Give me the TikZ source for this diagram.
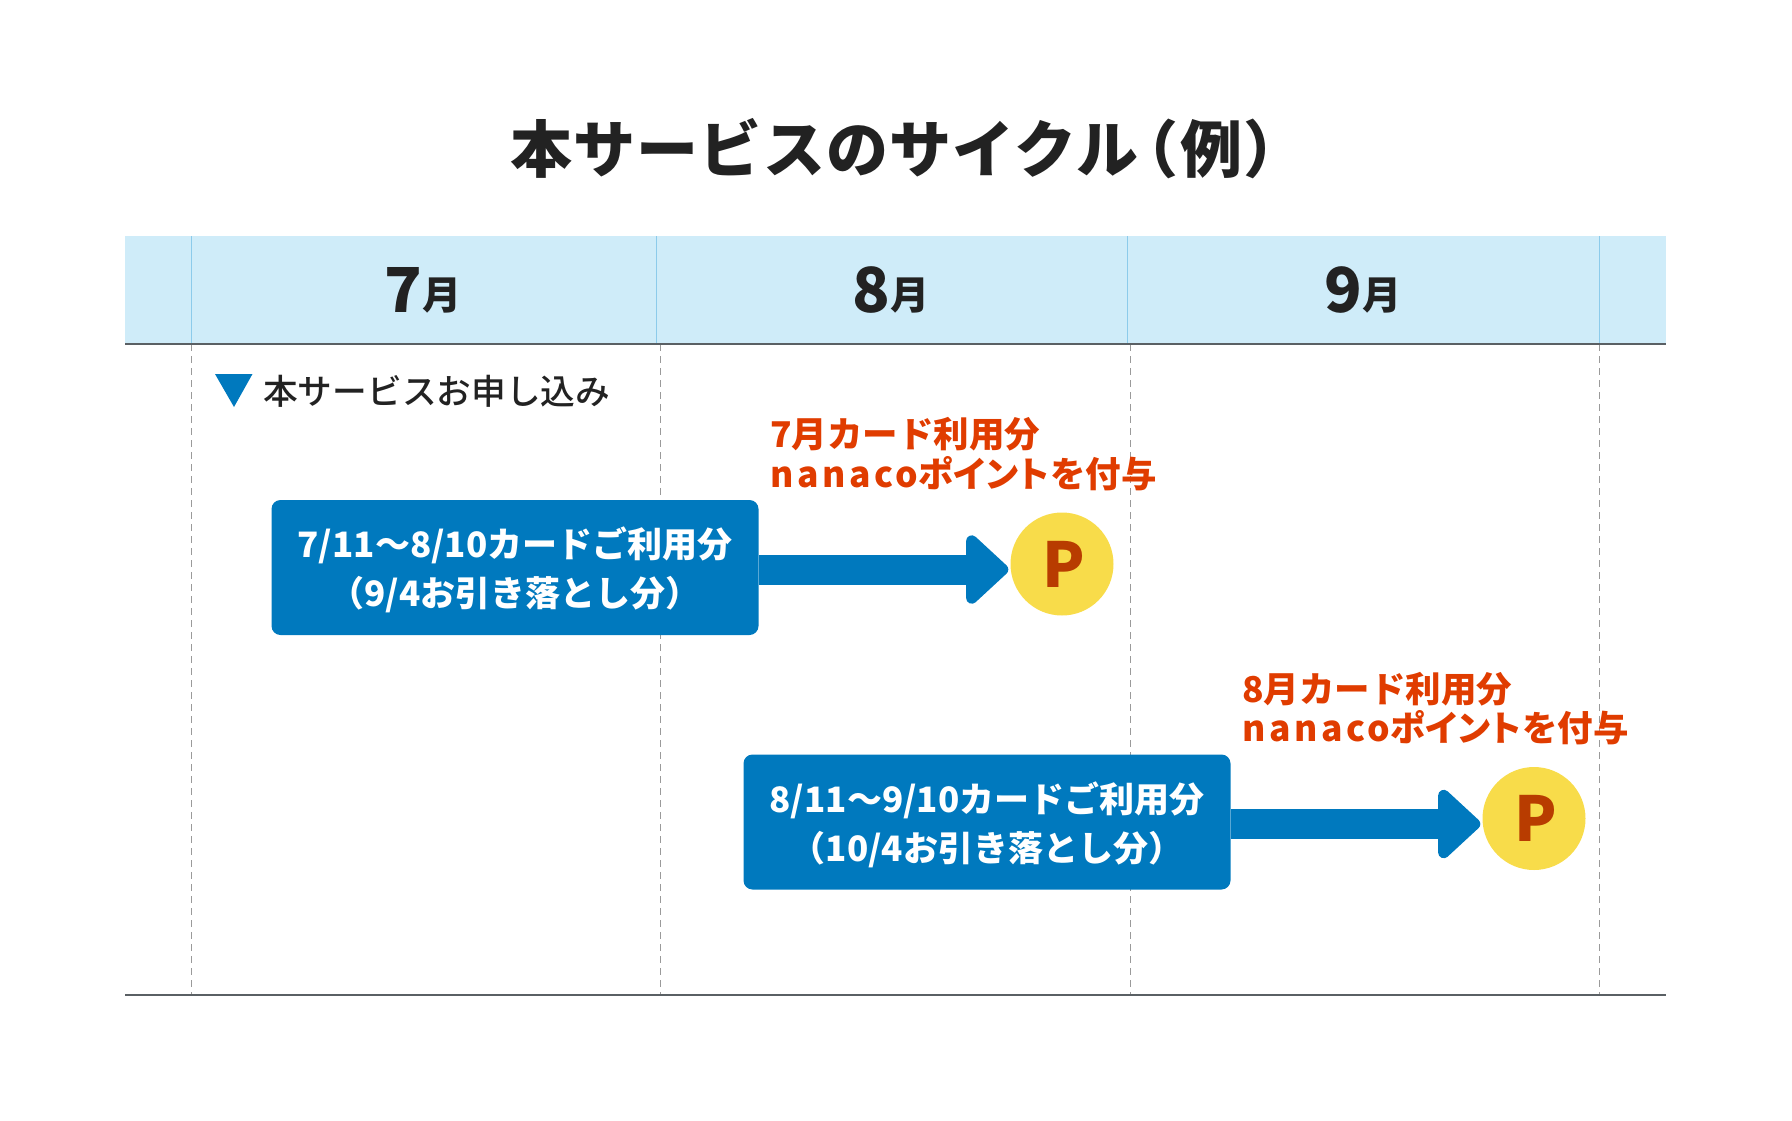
\documentclass[tikz,border=0pt]{standalone}
\usepackage{fontspec}
\setmainfont{Noto Sans CJK JP}
\newfontfamily\jpmedium{Noto Sans CJK JP Medium}
\newfontfamily\jpbold[RawFeature=+palt,LetterSpace=2.5]{Noto Sans CJK JP Bold}
\newfontfamily\latinbold[LetterSpace=10]{Noto Sans CJK JP Bold}
\usepackage{tikz}
\usetikzlibrary{arrows.meta,positioning}
\definecolor{bandblue}{HTML}{CFECF9}
\definecolor{sepblue}{HTML}{8CCBEB}
\definecolor{boxblue}{HTML}{0079BE}
\definecolor{notered}{HTML}{E03C00}
\definecolor{coinyellow}{HTML}{F8DC4A}
\definecolor{coinletter}{HTML}{B83C00}
\definecolor{inkdark}{HTML}{222222}
\definecolor{rulegray}{HTML}{5A6064}
\definecolor{dashgray}{HTML}{9A9A9A}
\tikzset{
  usage/.style={fill=boxblue,text=white,rounded corners=9pt,minimum width=487pt,minimum height=135pt,
    inner sep=0pt,align=center,font=\fontsize{35}{49}\selectfont\bfseries},
  coin/.style={circle,fill=coinyellow,text=coinletter,minimum size=103pt,inner sep=0pt,
    font=\fontsize{62}{62}\selectfont\bfseries},
  note/.style={anchor=west,inner sep=0pt,align=left,text=notered,font=\fontsize{35.5}{39.5}\selectfont\bfseries},
  flow/.style={draw=boxblue,line width=30pt,-{Triangle[length=45pt,width=80pt,round]},shorten >=2pt},
  month/.style={inner sep=0pt,text=inkdark,font=\bfseries}
}
\newcommand{\monthlabel}[1]{{\fontsize{62}{62}\selectfont #1}\raisebox{3pt}{\fontsize{39}{39}\selectfont 月}}
\begin{document}
\begin{tikzpicture}[x=1pt,y=-1pt]
  \useasboundingbox (0,0) rectangle (1792,1120);
  \fill[bandblue] (125,236) rectangle (1666,344);
  \foreach \x in {191.5,656,1127.5,1599}
    \draw[sepblue,line width=1pt] (\x,236) -- (\x,344);
  \foreach \x in {191.5,660.5,1130.5,1599.5}
    \draw[dashgray,line width=1.5pt,dash pattern=on 7pt off 5pt] (\x,344) -- (\x,995);
  \draw[rulegray,line width=2.5pt] (125,344) -- (1666,344);
  \draw[rulegray,line width=1.5pt] (125,995) -- (1666,995);

  \node[anchor=west,inner sep=0pt,text=inkdark,font=\fontsize{62}{62}\selectfont\bfseries] (title) at (510,149)
    {\addfontfeature{LetterSpace=2}本サービスのサイクル\hspace{7pt}{\jpmedium\addfontfeature{RawFeature=+palt}（\hspace{4pt}例\hspace{4pt}）}};
  \node[month] (jul) at (423,290) {\monthlabel{7}};
  \node[month] (aug) at (891,290) {\monthlabel{8}};
  \node[month] (sep) at (1363,290) {\monthlabel{9}};

  \fill[boxblue] (215,374) -- (252.5,374) -- (234,407) -- cycle;
  \node[anchor=west,inner sep=0pt,text=inkdark,font=\fontsize{34.7}{40}\selectfont\jpmedium] (apply) at (263,391) {本サービスお申し込み};

  \node[usage] (usejul) at (515,567.5) {\rule{0pt}{36pt}7/11〜8/10カードご利用分\\（9/4お引き落とし分）};
  \node[usage] (useaug) at (987,822) {\rule{0pt}{36pt}8/11〜9/10カードご利用分\\（10/4お引き落とし分）};
  \node[coin] (coinjul) at (1062,564) {\hspace*{4pt}P};
  \node[coin] (coinaug) at (1534,818.5) {\hspace*{4pt}P};
  \node[note] (notejul) at (770,454) {7月カード利用分\\{\latinbold nanaco}{\jpbold ポイントを付与}};
  \node[note] (noteaug) at (1242,708.5) {8月カード利用分\\{\latinbold nanaco}{\jpbold ポイントを付与}};

  \draw[flow] ([yshift=-2pt]usejul.east) -- ([yshift=-2pt]usejul.east -| coinjul.west);
  \draw[flow] ([yshift=-2pt]useaug.east) -- ([yshift=-2pt]useaug.east -| coinaug.west);
\end{tikzpicture}
\end{document}
